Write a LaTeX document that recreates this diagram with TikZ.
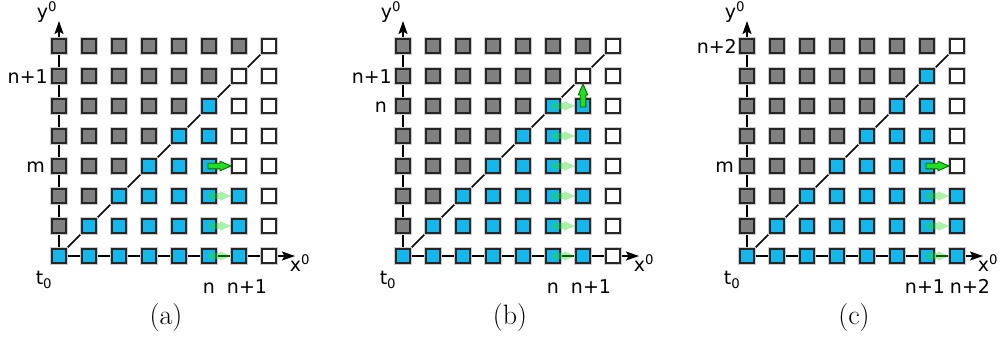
\documentclass[tikz,border=0pt]{standalone}
\usepackage{fontspec}
\setsansfont{DejaVu Sans}
\usetikzlibrary{arrows.meta}
\definecolor{cellblue}{RGB}{19,183,236}
\definecolor{cellgray}{RGB}{128,128,128}
\definecolor{arrgreen}{RGB}{34,222,34}
\definecolor{arrdark}{RGB}{0,105,0}
\pgfdeclarelayer{bg}
\pgfsetlayers{bg,main}
\tikzset{
  cell/.style={rectangle, minimum size=14pt, inner sep=0pt, line width=1.9pt, draw=black!85,
    preaction={draw=black!20, line width=3.6pt}},
  lbl/.style={font=\sffamily\fontsize{19}{19}\selectfont, inner sep=0pt},
  captxt/.style={font=\rmfamily\fontsize{28}{28}\selectfont, inner sep=0pt},
  axis/.style={line width=1.5pt, -{Stealth[length=13pt,width=9pt,inset=2.5pt]}},
  diag/.style={line width=1.5pt},
  solidarrow/.style={fill=arrgreen, draw=arrdark, line width=0.9pt},
  faintarrow/.style={fill=arrgreen, fill opacity=0.4},
  blockarrow/.pic={\path[pic actions] (-1,-2.8) -- (11,-2.8) -- (11,-4.8) -- (22,0) -- (11,4.8) -- (11,2.8) -- (-1,2.8) -- cycle;}
}
\newcommand\drawgrid[3]{%
  \foreach \rr in {0,...,7}{\foreach \cc in {0,...,7}{%
    \pgfmathtruncatemacro\kk{(\cc<\rr) ? 1 : ((#3) ? 2 : 0)}%
    \ifcase\kk\def\fc{cellblue}\or\def\fc{cellgray}\or\def\fc{white}\fi
    \node[cell, fill=\fc] (#1-\cc-\rr) at ({#2+30*\cc}, {256-30*\rr}) {};
  }}
  \coordinate (#1-xend) at ({#2+236}, 256);
  \coordinate (#1-yend) at (#2, 21);
  \begin{pgfonlayer}{bg}
    \draw[axis] (#1-0-0.center) -- (#1-xend);
    \draw[axis] (#1-0-0.center) -- (#1-yend);
    \draw[diag] (#1-0-0.center) -- (#1-7-7.center);
  \end{pgfonlayer}
  \node[lbl] (#1-ylab) at ({#2-12}, 12) {y\textsuperscript{0}};
  \node[lbl] (#1-xlab) at ({#2+241}, 263) {x\textsuperscript{0}};
  \node[lbl] (#1-tlab) at ({#2-15}, 280) {t\textsubscript{0}};
}
\begin{document}
\begin{tikzpicture}[x=1pt, y=-1pt]
\useasboundingbox (0,0) rectangle (1007,338);
% ---------- (a)
\drawgrid{a}{59}{(\cc>=6 && \rr>=3) || \cc==7}
\pic[faintarrow] at (a-5-0.center) {blockarrow};
\pic[faintarrow] at (a-5-1.center) {blockarrow};
\pic[faintarrow] at (a-5-2.center) {blockarrow};
\pic[solidarrow] at (a-5-3.center) {blockarrow};
\node[lbl, anchor=base east] (a-l1) at (48, 83) {n+1};
\node[lbl, anchor=base east] (a-l2) at (45, 172) {m};
\node[lbl, anchor=base] (a-b1) at (209, 293) {n};
\node[lbl, anchor=base] (a-b2) at (247, 293) {n+1};
\node[captxt] (a-cap) at (166, 318) {(a)};
% ---------- (b)
\drawgrid{b}{403}{\cc==7 || \rr>=6}
\foreach \rr in {0,...,5}{\pic[faintarrow] at (b-5-\rr.center) {blockarrow};}
\pic[solidarrow, rotate=90] at (b-6-5.center) {blockarrow};
\node[lbl, anchor=base east] (b-l1) at (392, 83) {n+1};
\node[lbl, anchor=base east] (b-l2) at (387, 112) {n};
\node[lbl, anchor=base] (b-b1) at (553, 293) {n};
\node[lbl, anchor=base] (b-b2) at (591, 293) {n+1};
\node[captxt] (b-cap) at (510, 318) {(b)};
% ---------- (c)
\drawgrid{c}{747}{\cc==7 && \rr>=3}
\pic[faintarrow] at (c-6-0.center) {blockarrow};
\pic[faintarrow] at (c-6-1.center) {blockarrow};
\pic[faintarrow] at (c-6-2.center) {blockarrow};
\pic[solidarrow] at (c-6-3.center) {blockarrow};
\node[lbl, anchor=base east] (c-l1) at (737, 53) {n+2};
\node[lbl, anchor=base east] (c-l2) at (734, 172) {m};
\node[lbl, anchor=base] (c-b1) at (925, 293) {n+1};
\node[lbl, anchor=base] (c-b2) at (970, 293) {n+2};
\node[captxt] (c-cap) at (854, 318) {(c)};
\end{tikzpicture}
\end{document}
